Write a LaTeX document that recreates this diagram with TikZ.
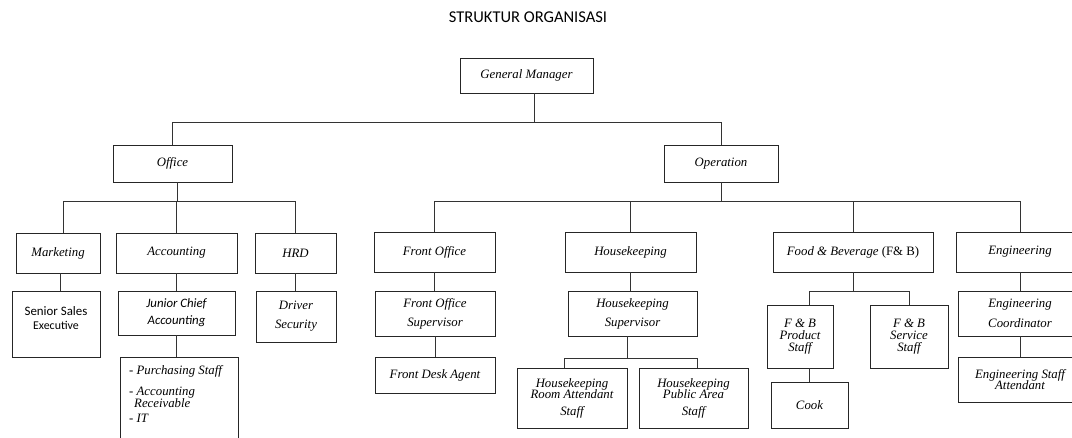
\documentclass[tikz,border=0pt]{standalone}
\usepackage{fontspec}
\setmainfont{Liberation Serif}
\newfontfamily\calib{Carlito}
\usetikzlibrary{calc}
\tikzset{
  box/.style={draw=black!85, line width=0.9pt, inner sep=0pt, align=center,
    font=\fontsize{12.8}{15}\selectfont\itshape},
  conn/.style={draw=black!80, line width=0.9pt},
  txt/.style={inner sep=0pt, font=\fontsize{12.8}{15}\selectfont\itshape}
}
\newcommand\orgbox[7][]{\node[box,minimum width={#5-#3},minimum height={#6-#4},#1] (#2) at ({(#3+#5)/2},{(#4+#6)/2}) {#7};}
\begin{document}
\begin{tikzpicture}[x=1pt,y=-1pt]
\clip (0,0) rectangle (1072,437);
\node[inner sep=0pt, font=\calib\fontsize{16.5}{18}\selectfont] (title) at (528,17) {STRUKTUR ORGANISASI};
% level 1
\orgbox{gm}{460}{58}{593}{93}{General Manager}
% level 2
\orgbox{office}{113}{145}{232}{182}{Office}
\orgbox{operation}{664}{145}{778}{182}{Operation}
% level 3
\orgbox{marketing}{16}{233}{100}{273}{Marketing}
\orgbox{accounting}{116}{233}{237}{273}{Accounting}
\orgbox{hrd}{255}{233}{336}{273}{HRD}
\orgbox{fo}{374}{232}{495}{272}{Front Office}
\orgbox{hk}{565}{232}{696}{272}{Housekeeping}
\orgbox{fb}{773}{232}{933}{272}{Food \& Beverage {\upshape(F\& B)}}
\orgbox{eng}{956}{232}{1084}{272}{Engineering}
% level 4
\orgbox{senior}{12}{291}{100}{357}{}
\node[txt, align=center, font=\calib\fontsize{12.9}{15}\selectfont] (seniortxt) at (56,318) {Senior Sales\\[-1pt]{\fontsize{11.9}{13}\selectfont Executive}};
\orgbox[font=\calib\fontsize{12.8}{15}\selectfont\itshape]{junior}{118}{291}{235}{335}{Junior Chief\\[2pt]Accounting}
\orgbox{driver}{256}{291}{336}{342}{Driver\\[4pt]Security}
\orgbox{fos}{375}{291}{495}{336}{Front Office\\[4pt]Supervisor}
\orgbox{hks}{568}{291}{697}{336}{Housekeeping\\[4pt]Supervisor}
\orgbox{fbp}{767}{305}{833}{368}{F \& B\\[-3pt]Product\\[-3pt]Staff}
\orgbox{fbs}{870}{305}{948}{368}{F \& B\\[-3pt]Service\\[-3pt]Staff}
\orgbox{ec}{958}{291}{1082}{336}{Engineering\\[5pt]Coordinator}
% level 5
\orgbox{list}{120}{357}{238}{450}{}
\node[txt, align=left, anchor=north west] (listtxt) at (129,365) {- Purchasing Staff\\[6pt]- Accounting\\[-3pt]\hspace*{5pt}Receivable\\[0pt]- IT};
\orgbox{fda}{375}{357}{495}{393}{Front Desk Agent}
\orgbox{hkr}{517}{368}{627}{428}{Housekeeping\\[-4pt]Room Attendant\\[2pt]Staff}
\orgbox{hkp}{639}{368}{748}{428}{Housekeeping\\[-4pt]Public Area\\[2pt]Staff}
\orgbox{cook}{771}{382}{848}{428}{Cook}
\orgbox{esa}{958}{357}{1082}{402}{Engineering Staff\\[-4pt]Attendant}
% bus levels
\coordinate (b1) at (0,122);
\coordinate (b2) at (0,201);
\coordinate (b3) at (0,291);
\coordinate (b4) at (0,358);
% GM
\coordinate (gmd) at ([xshift=7.5pt]gm.south);
\draw[conn] (gmd) -- (gmd |- b1);
\draw[conn] (office.north) -- (office.north |- b1) -- (operation.north |- b1) -- (operation.north);
% Office
\coordinate (offd) at ([xshift=4.5pt]office.south);
\coordinate (mkt) at ([xshift=5pt]marketing.north);
\draw[conn] (offd) -- (offd |- b2);
\draw[conn] (mkt) -- (mkt |- b2) -- (hrd.north |- b2) -- (hrd.north);
\draw[conn] (accounting.north) -- (accounting.north |- b2);
% Operation
\draw[conn] (operation.south) -- (operation.south |- b2);
\draw[conn] (fo.north) -- (fo.north |- b2) -- (eng.north |- b2) -- (eng.north);
\draw[conn] (hk.north) -- (hk.north |- b2);
\draw[conn] (fb.north) -- (fb.north |- b2);
% level 3 -> 4
\coordinate (mkd) at ([xshift=2pt]marketing.south);
\draw[conn] (mkd) -- (mkd |- senior.north);
\draw[conn] (accounting.south) -- (accounting.south |- junior.north);
\draw[conn] (hrd.south) -- (hrd.south |- driver.north);
\draw[conn] (fo.south) -- (fo.south |- fos.north);
\draw[conn] (hk.south) -- (hk.south |- hks.north);
\draw[conn] (eng.south) -- (eng.south |- ec.north);
% F&B bus
\coordinate (fbl) at ([xshift=9pt]fbp.north);
\draw[conn] (fb.south) -- (fb.south |- b3);
\draw[conn] (fbl) -- (fbl |- b3) -- (fbs.north |- b3) -- (fbs.north);
% level 4 -> 5
\draw[conn] (junior.south) -- (junior.south |- list.north);
\draw[conn] (fos.south) -- (fos.south |- fda.north);
\draw[conn] (ec.south) -- (ec.south |- esa.north);
\draw[conn] (fbl |- fbp.south) -- (fbl |- cook.north);
% HK bus
\coordinate (hksd) at ([xshift=-5.5pt]hks.south);
\coordinate (hkrl) at ([xshift=-8pt]hkr.north);
\coordinate (hkpr) at ([xshift=3.5pt]hkp.north);
\draw[conn] (hksd) -- (hksd |- b4);
\draw[conn] (hkrl) -- (hkrl |- b4) -- (hkpr |- b4) -- (hkpr);
\end{tikzpicture}
\end{document}
